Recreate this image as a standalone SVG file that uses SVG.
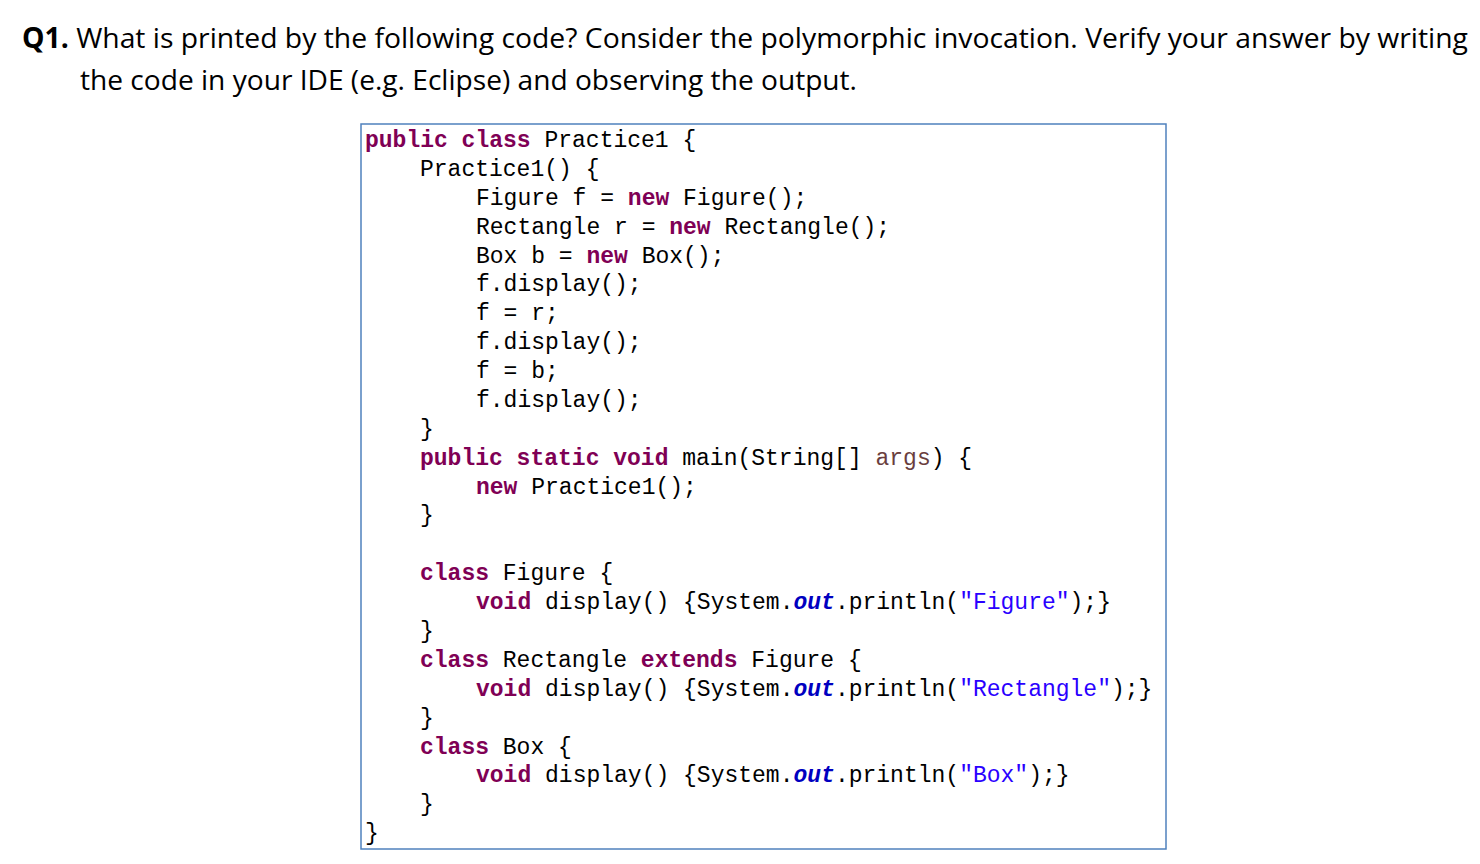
<svg xmlns="http://www.w3.org/2000/svg" width="1480" height="864" viewBox="0 0 1480 864">
<style>
.h{font-family:"Open Sans","Noto Sans",sans-serif;font-size:28px;fill:#000}
.c{font-family:"Liberation Mono","DejaVu Sans Mono",monospace;font-size:23px;fill:#000;white-space:pre}
.k{fill:#7F0055;font-weight:bold}
.s{fill:#2A00FF}
.o{fill:#0000C0;font-weight:bold;font-style:italic}
.a{fill:#6A3E3E}
</style>
<rect width="1480" height="864" fill="#fff"/>
<text class="h" x="22" y="48" textLength="1446" lengthAdjust="spacingAndGlyphs"><tspan font-weight="bold">Q1.</tspan> What is printed by the following code? Consider the polymorphic invocation. Verify your answer by writing</text>
<text class="h" x="80" y="90" textLength="777" lengthAdjust="spacingAndGlyphs">the code in your IDE (e.g. Eclipse) and observing the output.</text>
<rect x="361" y="124" width="805" height="725" fill="none" stroke="#4F81BD" stroke-width="1.5"/>
<g class="c">
<text x="365" y="147"><tspan class="k">public class</tspan> Practice1 {</text>
<text x="420" y="176">Practice1() {</text>
<text x="476" y="205">Figure f = <tspan class="k">new</tspan> Figure();</text>
<text x="476" y="234">Rectangle r = <tspan class="k">new</tspan> Rectangle();</text>
<text x="476" y="263">Box b = <tspan class="k">new</tspan> Box();</text>
<text x="476" y="291">f.display();</text>
<text x="476" y="320">f = r;</text>
<text x="476" y="349">f.display();</text>
<text x="476" y="378">f = b;</text>
<text x="476" y="407">f.display();</text>
<text x="420" y="436">}</text>
<text x="420" y="465"><tspan class="k">public static void</tspan> main(String[] <tspan class="a">args</tspan>) {</text>
<text x="476" y="494"><tspan class="k">new</tspan> Practice1();</text>
<text x="420" y="522">}</text>
<text x="420" y="580"><tspan class="k">class</tspan> Figure {</text>
<text x="476" y="609"><tspan class="k">void</tspan> display() {System.<tspan class="o">out</tspan>.println(<tspan class="s">"Figure"</tspan>);}</text>
<text x="420" y="638">}</text>
<text x="420" y="667"><tspan class="k">class</tspan> Rectangle <tspan class="k">extends</tspan> Figure {</text>
<text x="476" y="696"><tspan class="k">void</tspan> display() {System.<tspan class="o">out</tspan>.println(<tspan class="s">"Rectangle"</tspan>);}</text>
<text x="420" y="725">}</text>
<text x="420" y="754"><tspan class="k">class</tspan> Box {</text>
<text x="476" y="782"><tspan class="k">void</tspan> display() {System.<tspan class="o">out</tspan>.println(<tspan class="s">"Box"</tspan>);}</text>
<text x="420" y="811">}</text>
<text x="365" y="840">}</text>
</g>
</svg>
